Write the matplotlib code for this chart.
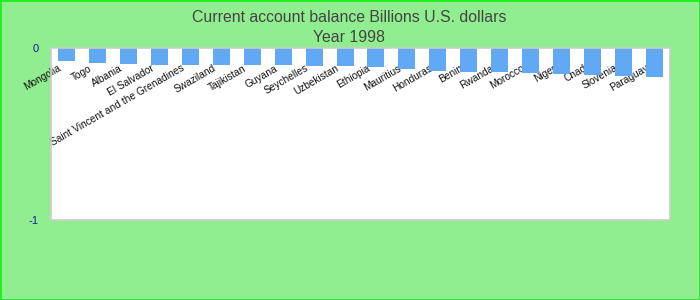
import matplotlib.pyplot as plt
import matplotlib.transforms as mtransforms
import numpy as np

# veriler
countries = ['Mongolia', 'Togo', 'Albania', 'El Salvador',
             'Saint Vincent and the Grenadines', 'Swaziland', 'Tajikistan',
             'Guyana', 'Seychelles', 'Uzbekistan', 'Ethiopia', 'Mauritius',
             'Honduras', 'Benin', 'Rwanda', 'Morocco', 'Niger', 'Chad',
             'Slovenia', 'Paraguay']
balance = [-0.078, -0.085, -0.091, -0.097, -0.097, -0.099, -0.100, -0.101,
           -0.102, -0.105, -0.108, -0.120, -0.132, -0.137, -0.138, -0.143,
           -0.149, -0.155, -0.160, -0.166]
yticks = [0, -1]
ytick_labels = ['0', '-1']

plt.rcParams['font.family'] = ['Liberation Sans', 'DejaVu Sans']

fig = plt.figure(figsize=(7, 3), dpi=100)
fig.patch.set_facecolor('#90ee90')
fig.patch.set_edgecolor('#22ee22')
fig.patch.set_linewidth(2)

ax = fig.add_axes([51 / 700, 80 / 300, 619 / 700, 172 / 300])
ax.set_facecolor('white')

x = np.arange(len(countries))
ax.bar(x, balance, width=0.55, color='#61a8f5', zorder=2)

ax.set_xlim(-0.5, len(countries) - 0.5)
ax.set_ylim(-1, 0)
ax.set_yticks(yticks)
ax.set_yticklabels(ytick_labels, color='#1a1aa0', fontsize=8)
ax.tick_params(axis='y', length=0, pad=9)

# Etiketler çizim alanının içinde, üst kısımda
ax.set_xticks(x)
ax.set_xticklabels(countries, rotation=30, ha='right', va='top',
                   rotation_mode='anchor', fontsize=7.3, color='#111111')
ax.tick_params(axis='x', length=0, pad=-113)
offset = mtransforms.ScaledTranslation(-9 / 100, 0, fig.dpi_scale_trans)
for lbl in ax.get_xticklabels():
    lbl.set_transform(lbl.get_transform() + offset)

for s in ax.spines.values():
    s.set_color('#cccccc')
    s.set_linewidth(1.2)

# Başlık figürün ortasında
ax.set_title('Current account balance Billions U.S. dollars\nYear 1998',
             fontsize=11.4, color='#444444', linespacing=1.45, pad=4,
             x=(349 - 51) / 619)

fig.savefig('out.png', dpi=100, facecolor=fig.get_facecolor(),
            edgecolor=fig.get_edgecolor())
